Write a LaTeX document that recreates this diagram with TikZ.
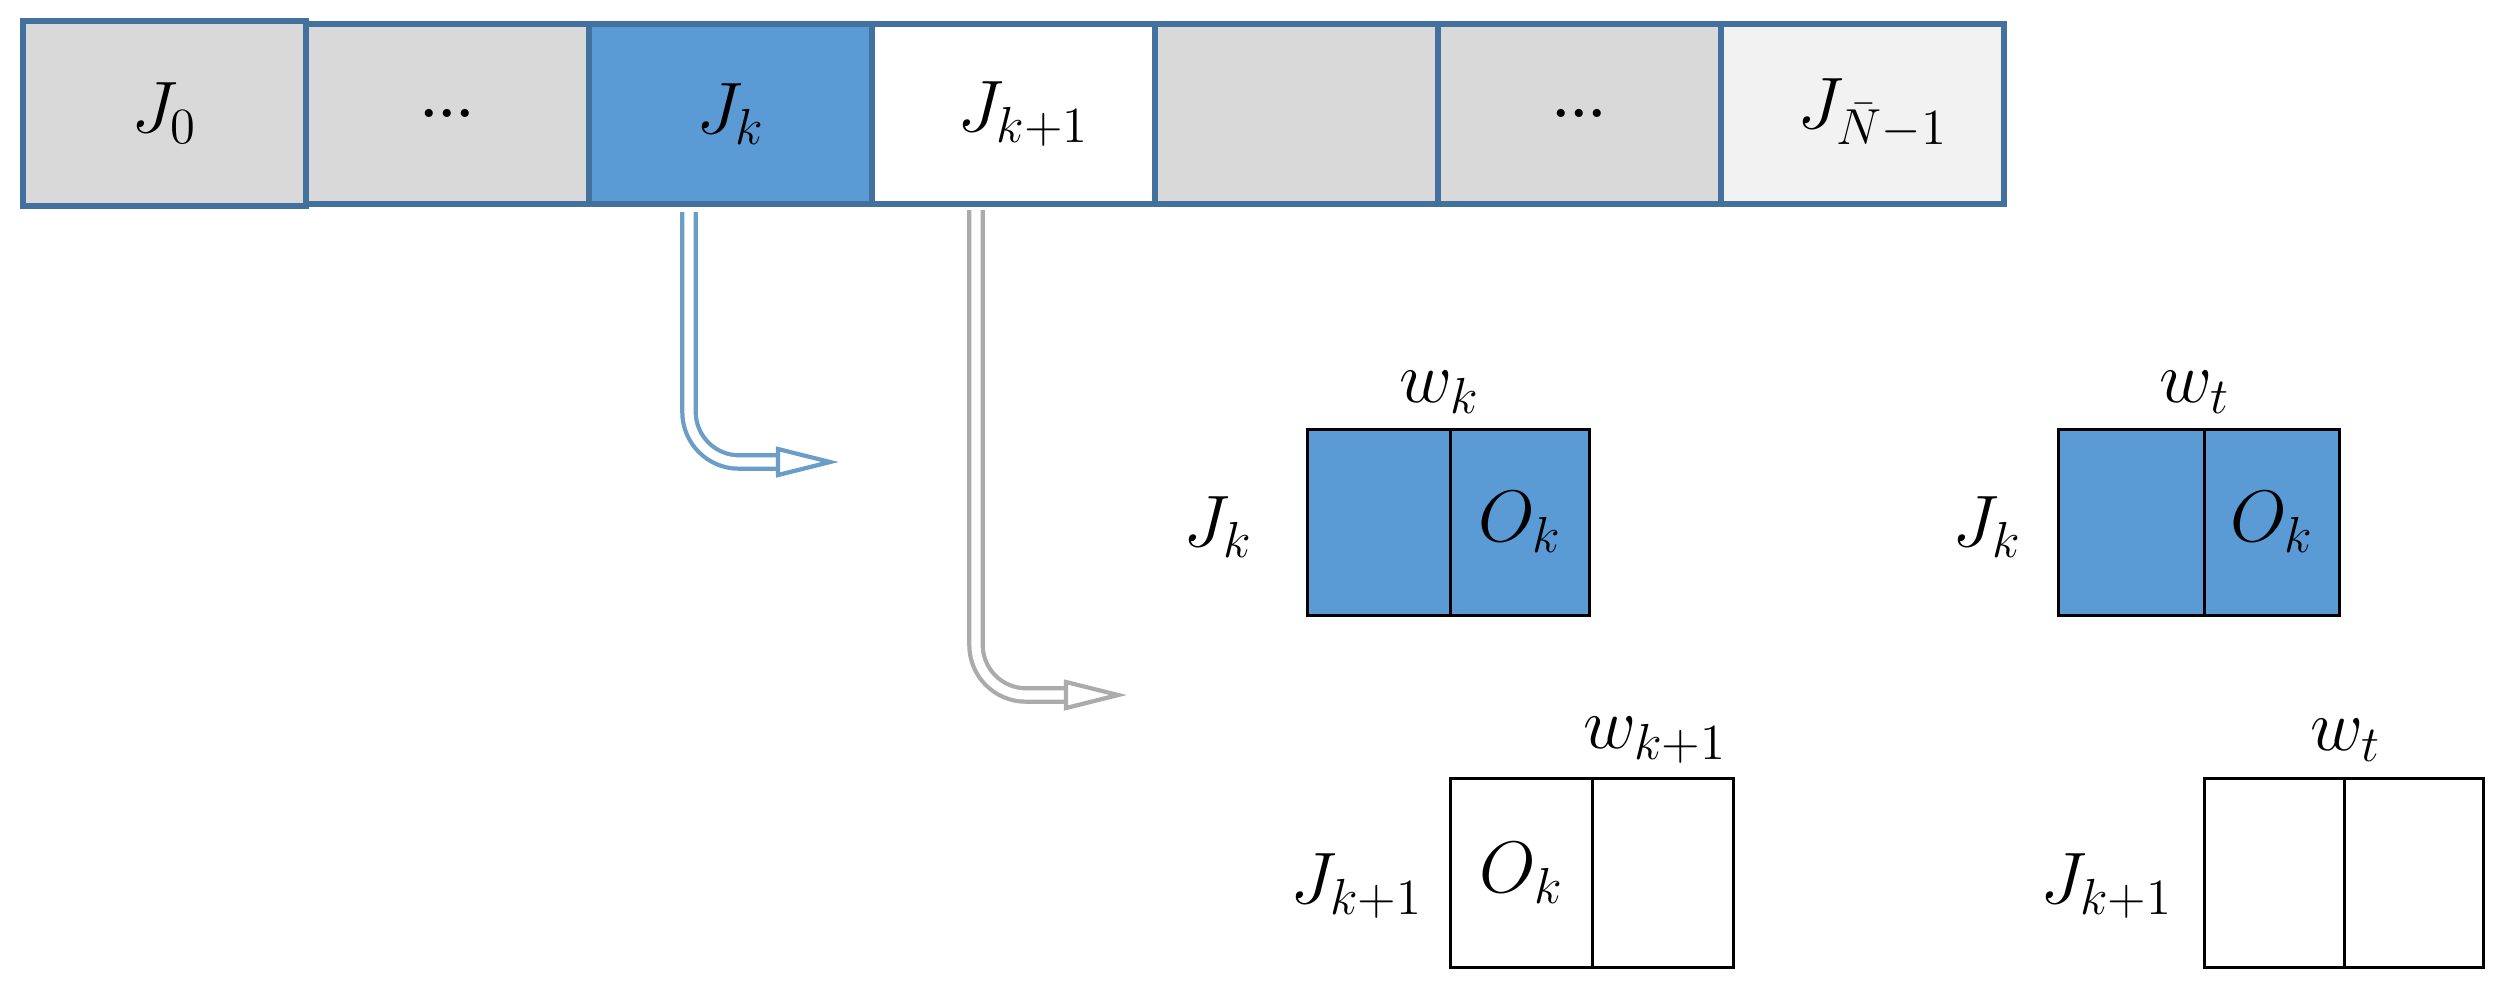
\documentclass[tikz,border=0pt]{standalone}
\usepackage{amsmath}
\begin{document}
\begin{tikzpicture}[x=0.01cm,y=-0.01cm,
  cell/.style={draw=bord,line width=1.6pt,minimum height=1.8cm,minimum width=2.83cm,inner sep=0pt,anchor=north west,font=\fontsize{22}{26}\selectfont},
  half/.style={draw=black,line width=0.8pt,inner sep=0pt,anchor=north west,font=\fontsize{22}{26}\selectfont},
  lab/.style={font=\fontsize{22}{26}\selectfont,inner sep=1pt},
  harrow/.style={double=white,double distance=2.6pt,line width=1.2pt,rounded corners=0.5cm},
  head/.style={line width=1.2pt,fill=white}]
\definecolor{bord}{HTML}{41719C}
\definecolor{gr}{HTML}{D9D9D9}
\definecolor{lg}{HTML}{F2F2F2}
\definecolor{bl}{HTML}{5B9BD5}
\definecolor{ab}{HTML}{6A9DC8}
\definecolor{ag}{HTML}{ABABAB}
\useasboundingbox (0,0) rectangle (2502,987);
% top row
\node[cell,fill=gr,minimum height=1.85cm] (c0) at (20,18) {$J_0$};
\node[cell,fill=gr] (c1) at (303,21) {\textbf{\fontsize{16}{18}\selectfont...}};
\node[cell,fill=bl] (c2) at (586,21) {$J_k$};
\node[cell,fill=white] (c3) at (869,21) {$\;J_{k+1}$};
\node[cell,fill=gr] (c4) at (1152,21) {};
\node[cell,fill=gr] (c5) at (1435,21) {\textbf{\fontsize{16}{18}\selectfont...}};
\node[cell,fill=lg] (c6) at (1718,21) {$\;J_{\bar N-1}$};
% arrows
\coordinate (a1s) at (689,212); \coordinate (a1e) at (778,462);
\draw[harrow,draw=ab] (a1s) |- (a1e);
\draw[head,draw=ab] (778,449) -- (830,462) -- (778,475) -- cycle;
\coordinate (a2s) at (976,210); \coordinate (a2e) at (1066,695);
\draw[harrow,draw=ag] (a2s) |- (a2e);
\draw[head,draw=ag] (1066,682) -- (1118,695) -- (1066,708) -- cycle;
% upper right boxes
\foreach \n/\x/\d/\w in {ua/1306/143/139, ub/2057/146/135}{
  \node[half,fill=bl,minimum width=\d*0.01cm,minimum height=1.86cm] (\n l) at (\x,428) {};
  \node[half,fill=bl,minimum width=\w*0.01cm,minimum height=1.86cm] (\n r) at (\x+\d,428) {};
}
\node[lab] at (uar) {$O_k$};
\node[lab] at (ubr) {$O_k$};
\node[lab] at (1218,527) {$J_k$};
\node[lab] at (1987,527) {$J_k$};
\node[lab] at (1440,392) {$w_k$};
\node[lab] at (2195,392) {$w_t$};
% lower boxes
\node[half,minimum width=1.42cm,minimum height=1.89cm] (bal) at (1449,777) {$O_k$};
\node[half,minimum width=1.41cm,minimum height=1.89cm] (bar) at (1591,777) {};
\node[half,minimum width=1.40cm,minimum height=1.89cm] (bbl) at (2203,777) {};
\node[half,minimum width=1.39cm,minimum height=1.89cm] (bbr) at (2343,777) {};
\node[lab] at (1357,886) {$J_{k+1}$};
\node[lab] at (2107,886) {$J_{k+1}$};
\node[lab] at (1655,740) {$w_{k+1}$};
\node[lab] at (2346,740) {$w_t$};
\end{tikzpicture}
\end{document}
